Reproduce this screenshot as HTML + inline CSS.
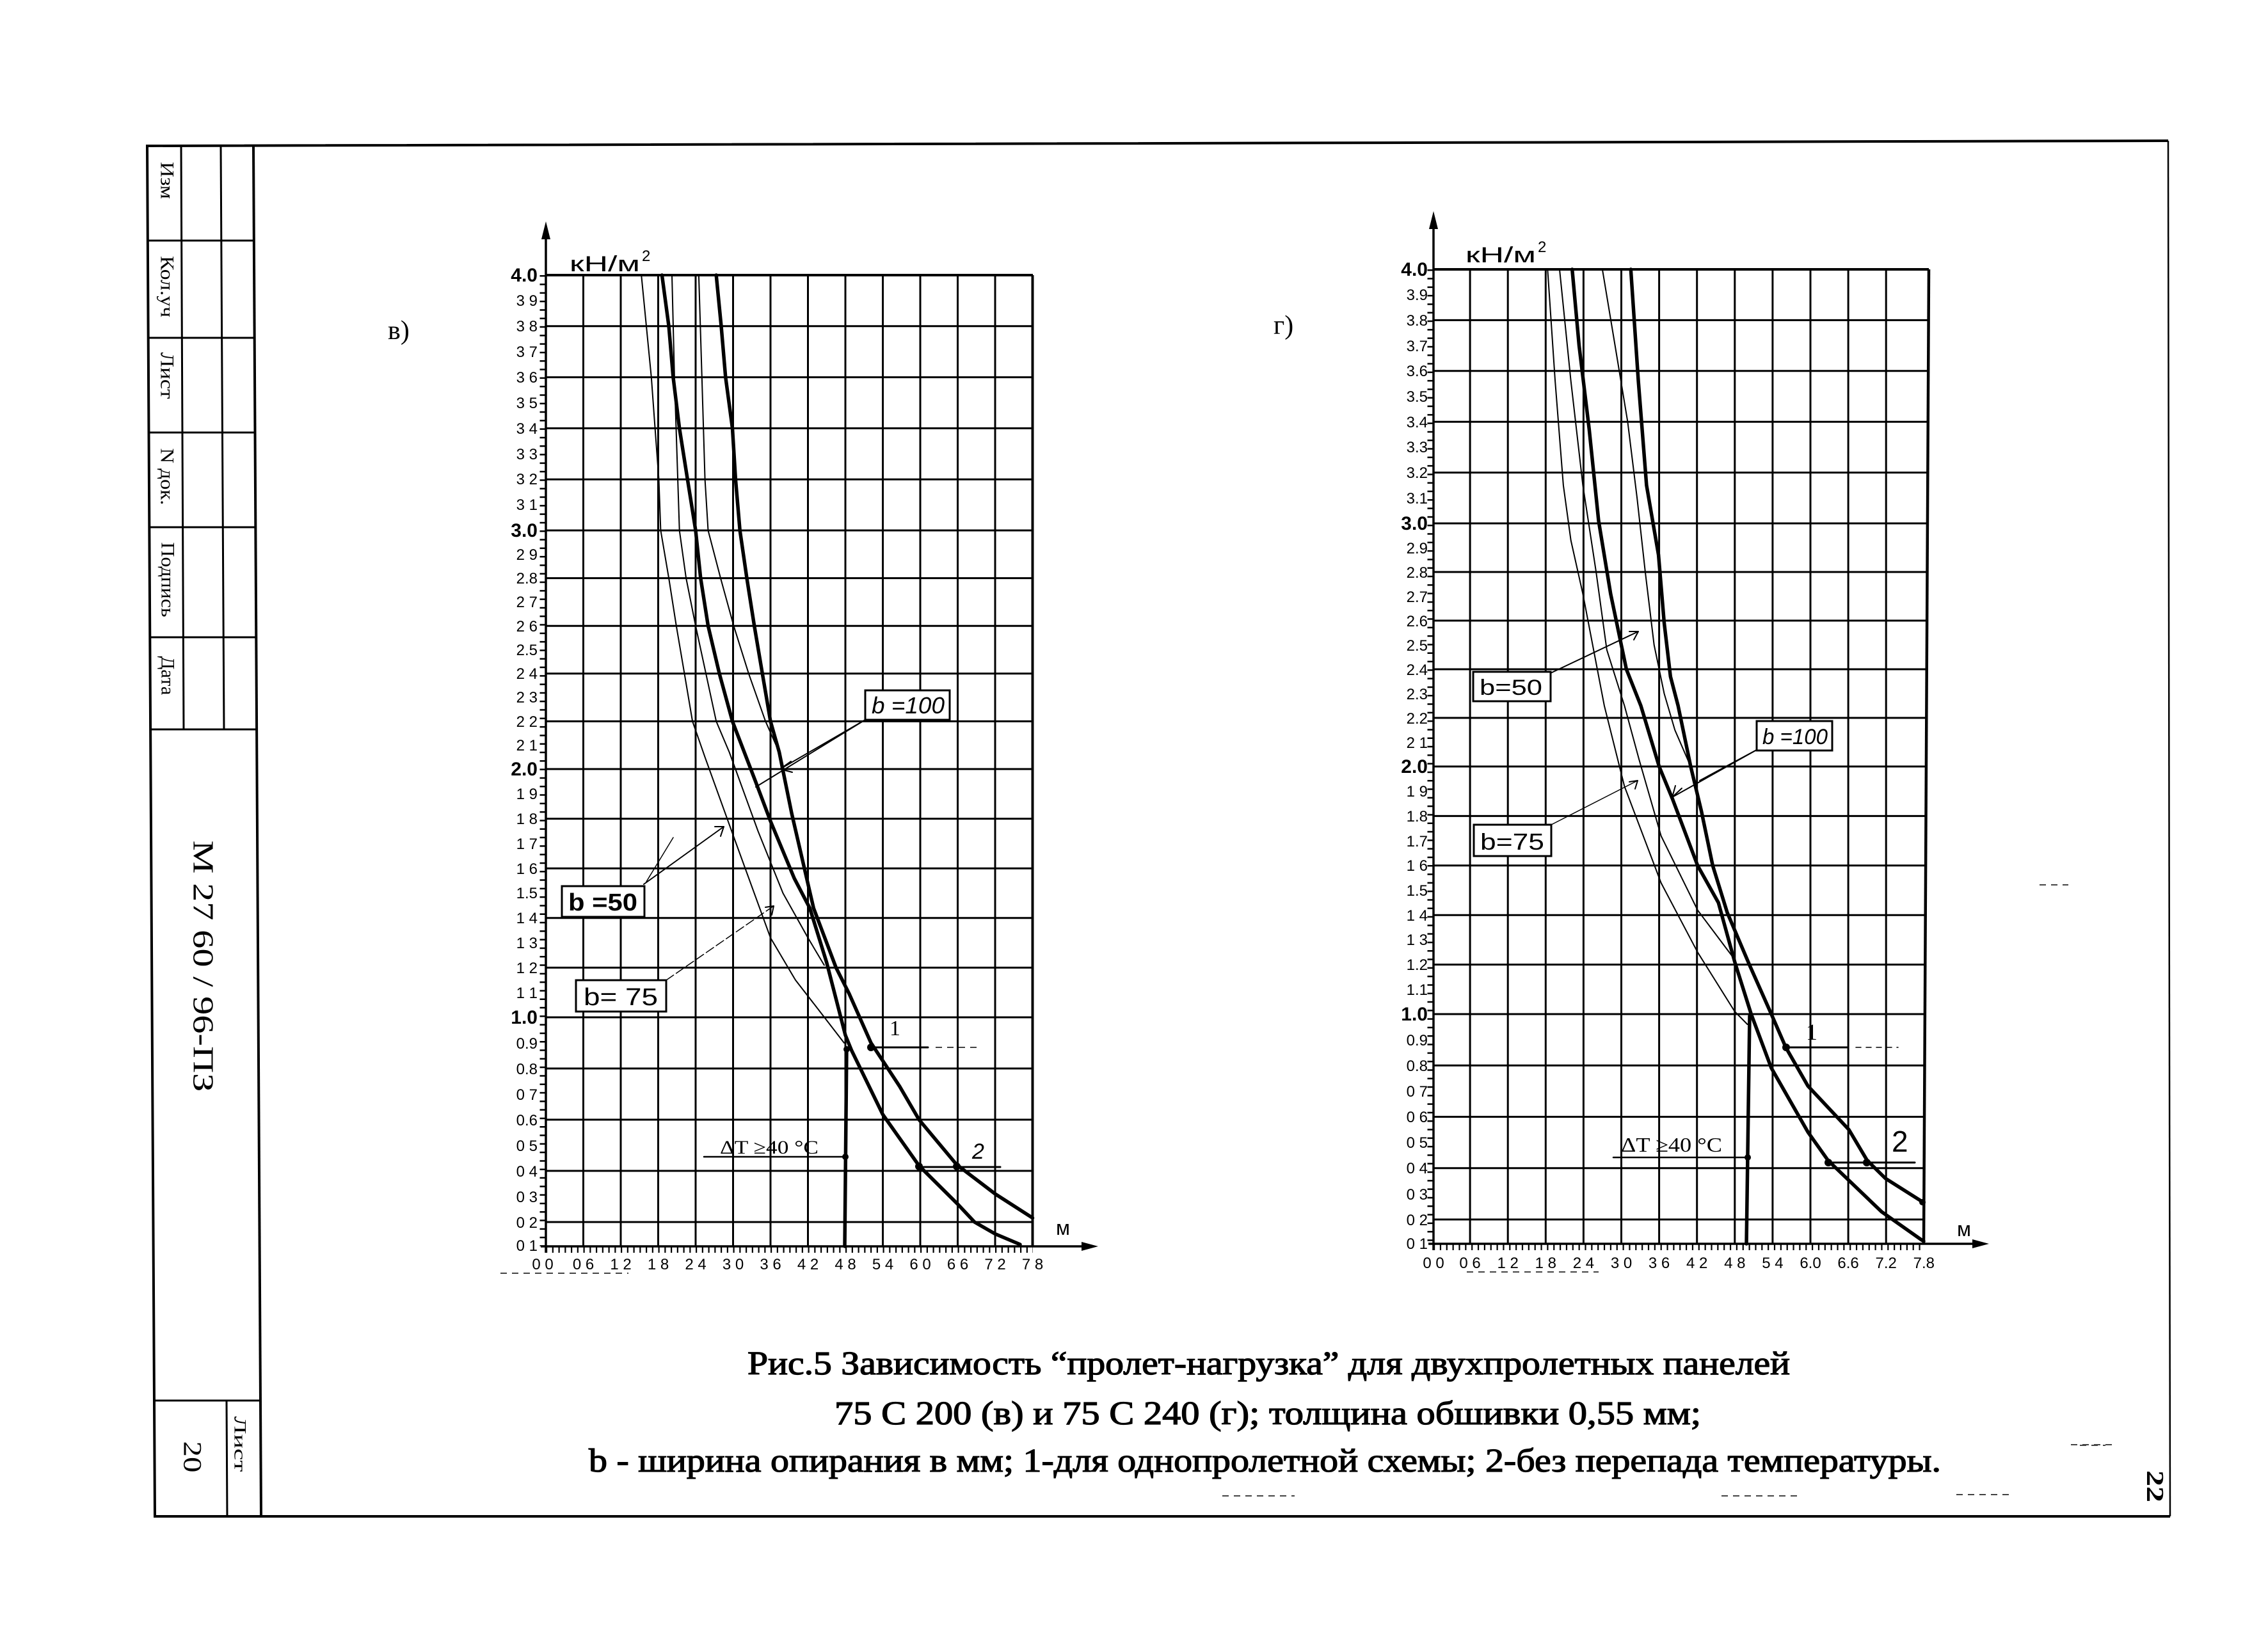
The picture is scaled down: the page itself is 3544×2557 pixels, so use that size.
<!DOCTYPE html>
<html><head><meta charset="utf-8">
<style>html,body{margin:0;padding:0;background:#fff;}svg{display:block}</style>
</head><body>
<svg xmlns="http://www.w3.org/2000/svg" width="3544" height="2557" viewBox="0 0 3544 2557">
<rect width="3544" height="2557" fill="#fff"/>

<!-- ===== Page frame & title block ===== -->
<g stroke="#000" fill="none" stroke-width="4">
<polyline points="3388,220 230,228 242,2370 3391,2370"/>
<line x1="396" y1="228" x2="408" y2="2370"/>
</g>
<line x1="3388" y1="220" x2="3391" y2="2370" stroke="#000" stroke-width="2.5"/>
<g stroke="#000" stroke-width="3">
<line x1="283" y1="228" x2="287" y2="1140"/>
<line x1="345" y1="228" x2="350" y2="1140"/>
<line x1="231" y1="376" x2="397" y2="376"/>
<line x1="231" y1="528" x2="398" y2="528"/>
<line x1="232" y1="676" x2="399" y2="676"/>
<line x1="232" y1="824" x2="400" y2="824"/>
<line x1="233" y1="996" x2="400" y2="996"/>
<line x1="234" y1="1140" x2="401" y2="1140"/>
<line x1="240" y1="2189" x2="407" y2="2189"/>
<line x1="354" y1="2189" x2="355" y2="2370"/>
</g>
<g font-family="'Liberation Serif','Noto Serif CJK SC',serif" fill="#000" text-anchor="middle" dominant-baseline="central">
<text transform="translate(261,282) rotate(90)" font-size="30" textLength="58" lengthAdjust="spacingAndGlyphs">Изм</text>
<text transform="translate(261,448) rotate(90)" font-size="30" textLength="96" lengthAdjust="spacingAndGlyphs">Кол.уч</text>
<text transform="translate(261,587) rotate(90)" font-size="30" textLength="73" lengthAdjust="spacingAndGlyphs">Лист</text>
<text transform="translate(261,745) rotate(90)" font-size="30" textLength="89" lengthAdjust="spacingAndGlyphs">N док.</text>
<text transform="translate(262,906) rotate(90)" font-size="30" textLength="117" lengthAdjust="spacingAndGlyphs">Подпись</text>
<text transform="translate(262,1056) rotate(90)" font-size="30" textLength="61" lengthAdjust="spacingAndGlyphs">Дата</text>
<text transform="translate(318,1510) rotate(90)" font-size="46" textLength="393" lengthAdjust="spacingAndGlyphs">М 27 60 / 96-ПЗ</text>
<text transform="translate(301,2277) rotate(90)" font-size="40" textLength="49" lengthAdjust="spacingAndGlyphs">20</text>
<text transform="translate(375,2257) rotate(90)" font-size="26" textLength="87" lengthAdjust="spacingAndGlyphs">Лист</text>
<text transform="translate(3367,2323) rotate(90)" font-size="38" font-weight="bold" textLength="50" lengthAdjust="spacingAndGlyphs">22</text>
</g>

<!-- panel letters -->
<g font-family="'Liberation Serif','Noto Serif CJK SC',serif" fill="#000" font-size="42">
<text x="606" y="530">в)</text>
<text x="1990" y="522">г)</text>
</g>

<!-- ===== LEFT CHART ===== -->
<g stroke="#000" stroke-width="3" fill="none">
<line x1="853" y1="430" x2="1614" y2="430" stroke-width="4"/>
<line x1="853" y1="509.8" x2="1614" y2="509.8"/>
<line x1="853" y1="589.6" x2="1614" y2="589.6"/>
<line x1="853" y1="669.4" x2="1614" y2="669.4"/>
<line x1="853" y1="749.2" x2="1614" y2="749.2"/>
<line x1="853" y1="829" x2="1614" y2="829"/>
<line x1="853" y1="903.6" x2="1614" y2="903.6"/>
<line x1="853" y1="978.2" x2="1614" y2="978.2"/>
<line x1="853" y1="1052.8" x2="1614" y2="1052.8"/>
<line x1="853" y1="1127.4" x2="1614" y2="1127.4"/>
<line x1="853" y1="1202" x2="1614" y2="1202"/>
<line x1="853" y1="1279.6" x2="1614" y2="1279.6"/>
<line x1="853" y1="1357.2" x2="1614" y2="1357.2"/>
<line x1="853" y1="1434.8" x2="1614" y2="1434.8"/>
<line x1="853" y1="1512.4" x2="1614" y2="1512.4"/>
<line x1="853" y1="1590" x2="1614" y2="1590"/>
<line x1="853" y1="1670" x2="1614" y2="1670"/>
<line x1="853" y1="1750" x2="1614" y2="1750"/>
<line x1="853" y1="1830" x2="1614" y2="1830"/>
<line x1="853" y1="1910" x2="1614" y2="1910"/>
<line x1="911.5" y1="430" x2="911.5" y2="1948"/>
<line x1="970" y1="430" x2="970" y2="1948"/>
<line x1="1028.5" y1="430" x2="1028.5" y2="1948"/>
<line x1="1087" y1="430" x2="1087" y2="1948"/>
<line x1="1145.5" y1="430" x2="1145.5" y2="1948"/>
<line x1="1204" y1="430" x2="1204" y2="1948"/>
<line x1="1262.5" y1="430" x2="1262.5" y2="1948"/>
<line x1="1321" y1="430" x2="1321" y2="1948"/>
<line x1="1379.5" y1="430" x2="1379.5" y2="1948"/>
<line x1="1438" y1="430" x2="1438" y2="1948"/>
<line x1="1496.5" y1="430" x2="1496.5" y2="1948"/>
<line x1="1555" y1="430" x2="1555" y2="1948"/>
<line x1="1613.5" y1="430" x2="1613.5" y2="1948" stroke-width="4"/>
<line x1="853" y1="362" x2="853" y2="1958" stroke-width="3.5"/>
<line x1="845" y1="1948" x2="1700" y2="1948" stroke-width="3.5"/>
<line x1="848" y1="430" x2="848" y2="1948" stroke-width="9" stroke-dasharray="2.5 10.8"/>
<line x1="853" y1="1953" x2="1614" y2="1953" stroke-width="10" stroke-dasharray="2.2 7.55"/>
</g>
<polygon points="853,346 846,374 860,374" fill="#000"/>
<polygon points="1716,1948 1690,1941 1690,1955" fill="#000"/>

<g fill="none" stroke="#000" stroke-linejoin="round" stroke-linecap="round">
<polyline stroke-width="2" points="1002.2,430 1010,509.8 1017.8,589.6 1023.6,669.4 1029.5,749.2 1032.4,829 1045.1,903.6 1056.8,978.2 1069.5,1052.8 1082.1,1127.4 1101.6,1183.4 1147.5,1310.6 1204,1465.8 1243,1531.8 1276.2,1574.5 1319,1630"/>
<polyline stroke-width="2" points="1050,430 1053.9,589.6 1061.7,829 1072,903 1087,978.2 1119.2,1127.4 1139.7,1175.9 1184.5,1299 1223.5,1396 1262.5,1465.8 1287.9,1508.5"/>
<polyline stroke-width="2" points="1091.9,430 1096.8,589.6 1101.6,749.2 1106.5,829 1126,903.6 1146.5,978.2 1169.9,1052.8 1196.2,1127.4 1217.7,1175.9"/>
<polyline stroke-width="5.5" points="1034.4,430 1045.1,509.8 1051.9,589.6 1061.7,669.4 1074.3,749.2 1087,829 1094.8,903.6 1106.5,978.2 1124.1,1052.8 1144.5,1127.4 1180.6,1221.4 1204,1283.5 1241.1,1372.7 1265.4,1419.3 1291.8,1504.6 1321,1618 1330.8,1642 1379.5,1742 1436.1,1822 1496.5,1882 1522.8,1910 1555,1928.5 1594,1945"/>
<polyline stroke-width="5.5" points="1119.2,430 1127,510 1133.8,589.6 1144.5,669.4 1149.4,749.2 1156.2,829 1167,903.6 1178.7,978.2 1191.3,1052.8 1204,1127.4 1217.7,1175.9 1237.2,1271.8 1271.3,1419.3 1306.4,1512.4 1326.9,1553.1 1361,1630 1405.8,1698 1436.1,1750 1494.6,1820 1555,1866 1613.5,1903.6"/>
<line x1="1323" y1="1638" x2="1320" y2="1948" stroke-width="5.5"/>
<line x1="1100" y1="1808" x2="1321" y2="1808" stroke-width="2.5"/>
<line x1="1361" y1="1637" x2="1450" y2="1637" stroke-width="3"/>
<line x1="1436" y1="1824" x2="1563" y2="1824" stroke-width="3"/>
<line x1="1352" y1="1125" x2="1181" y2="1230" stroke-width="2"/>
<line x1="1352" y1="1125" x2="1219" y2="1202" stroke-width="2"/>
<polyline stroke-width="2" points="1236,1190 1219,1202 1238,1207"/>
<line x1="1006" y1="1382" x2="1131" y2="1292" stroke-width="2"/>
<polyline stroke-width="2" points="1117,1292 1131,1292 1126,1307"/>
<line x1="1010" y1="1378" x2="1052" y2="1309" stroke-width="1.5"/>
<line x1="1041" y1="1532" x2="1209" y2="1416" stroke-width="1.5" stroke-dasharray="14 5"/>
<polyline stroke-width="2" points="1196,1418 1209,1416 1206,1430"/>
</g>
<g fill="#000">
<circle cx="1323" cy="1640" r="5"/>
<circle cx="1321" cy="1808" r="5"/>
<circle cx="1361" cy="1637" r="6"/>
<circle cx="1436" cy="1823" r="6"/>
<circle cx="1495" cy="1823" r="6"/>
</g>
<g fill="#fff" stroke="#000" stroke-width="3">
<rect x="1352" y="1079" width="132" height="46"/>
<rect x="878" y="1385" width="129" height="48"/>
<rect x="900" y="1532" width="141" height="49"/>
</g>
<g font-family="'Liberation Sans',sans-serif" fill="#000">
<text x="1362" y="1115" font-size="36" font-style="italic" textLength="114" lengthAdjust="spacingAndGlyphs">b =100</text>
<text x="888" y="1423" font-size="38" font-weight="bold" textLength="108" lengthAdjust="spacingAndGlyphs">b =50</text>
<text x="912" y="1571" font-size="38" textLength="116" lengthAdjust="spacingAndGlyphs">b= 75</text>
<text x="890" y="424" font-size="34" textLength="110" lengthAdjust="spacingAndGlyphs">кН/м</text>
<text x="1003" y="408" font-size="24">2</text>
<text x="1650" y="1930" font-size="32">м</text>
<text x="1519" y="1811" font-size="34" font-style="italic">2</text>
</g>
<g font-family="'Liberation Serif',serif" fill="#000">
<text x="1390" y="1618" font-size="34">1</text>
<text x="1125" y="1803" font-size="30" textLength="154" lengthAdjust="spacingAndGlyphs">ΔT ≥40 °C</text>
</g>
<g font-family="'Liberation Sans',sans-serif" fill="#000" font-size="24" text-anchor="end">
<text x="840" y="440" font-size="30" font-weight="bold">4.0</text>
<text x="840" y="478">3 9</text>
<text x="840" y="518">3 8</text>
<text x="840" y="558">3 7</text>
<text x="840" y="598">3 6</text>
<text x="840" y="638">3 5</text>
<text x="840" y="678">3 4</text>
<text x="840" y="718">3 3</text>
<text x="840" y="757">3 2</text>
<text x="840" y="797">3 1</text>
<text x="840" y="839" font-size="30" font-weight="bold">3.0</text>
<text x="840" y="875">2 9</text>
<text x="840" y="912">2.8</text>
<text x="840" y="949">2 7</text>
<text x="840" y="987">2 6</text>
<text x="840" y="1024">2.5</text>
<text x="840" y="1061">2 4</text>
<text x="840" y="1098">2 3</text>
<text x="840" y="1136">2 2</text>
<text x="840" y="1173">2 1</text>
<text x="840" y="1212" font-size="30" font-weight="bold">2.0</text>
<text x="840" y="1249">1 9</text>
<text x="840" y="1288">1 8</text>
<text x="840" y="1327">1 7</text>
<text x="840" y="1366">1 6</text>
<text x="840" y="1404">1.5</text>
<text x="840" y="1443">1 4</text>
<text x="840" y="1482">1 3</text>
<text x="840" y="1521">1 2</text>
<text x="840" y="1560">1 1</text>
<text x="840" y="1600" font-size="30" font-weight="bold">1.0</text>
<text x="840" y="1639">0.9</text>
<text x="840" y="1679">0.8</text>
<text x="840" y="1719">0 7</text>
<text x="840" y="1759">0.6</text>
<text x="840" y="1799">0 5</text>
<text x="840" y="1839">0 4</text>
<text x="840" y="1879">0 3</text>
<text x="840" y="1919">0 2</text>
<text x="840" y="1955">0 1</text>
</g>
<g font-family="'Liberation Sans',sans-serif" fill="#000" font-size="24" text-anchor="middle">
<text x="848" y="1984">0 0</text>
<text x="911.5" y="1984">0 6</text>
<text x="970" y="1984">1 2</text>
<text x="1028.5" y="1984">1 8</text>
<text x="1087" y="1984">2 4</text>
<text x="1145.5" y="1984">3 0</text>
<text x="1204" y="1984">3 6</text>
<text x="1262.5" y="1984">4 2</text>
<text x="1321" y="1984">4 8</text>
<text x="1379.5" y="1984">5 4</text>
<text x="1438" y="1984">6 0</text>
<text x="1496.5" y="1984">6 6</text>
<text x="1555" y="1984">7 2</text>
<text x="1613.5" y="1984">7 8</text>
</g>

<!-- ===== RIGHT CHART ===== -->
<g stroke="#000" stroke-width="3" fill="none">
<line x1="2240" y1="421" x2="3014" y2="421" stroke-width="4"/>
<line x1="2240" y1="500.4" x2="3013" y2="500.4"/>
<line x1="2240" y1="579.8" x2="3013" y2="579.8"/>
<line x1="2240" y1="659.2" x2="3012" y2="659.2"/>
<line x1="2240" y1="738.6" x2="3012" y2="738.6"/>
<line x1="2240" y1="818" x2="3011" y2="818"/>
<line x1="2240" y1="894" x2="3011" y2="894"/>
<line x1="2240" y1="970" x2="3011" y2="970"/>
<line x1="2240" y1="1046" x2="3010" y2="1046"/>
<line x1="2240" y1="1122" x2="3010" y2="1122"/>
<line x1="2240" y1="1198" x2="3010" y2="1198"/>
<line x1="2240" y1="1275.4" x2="3009" y2="1275.4"/>
<line x1="2240" y1="1352.8" x2="3009" y2="1352.8"/>
<line x1="2240" y1="1430.2" x2="3008" y2="1430.2"/>
<line x1="2240" y1="1507.6" x2="3008" y2="1507.6"/>
<line x1="2240" y1="1585" x2="3008" y2="1585"/>
<line x1="2240" y1="1665.3" x2="3007" y2="1665.3"/>
<line x1="2240" y1="1745.5" x2="3007" y2="1745.5"/>
<line x1="2240" y1="1825.8" x2="3007" y2="1825.8"/>
<line x1="2240" y1="1906" x2="3006" y2="1906"/>
<line x1="2297.1" y1="421" x2="2297.1" y2="1944"/>
<line x1="2356.2" y1="421" x2="2356.2" y2="1944"/>
<line x1="2415.3" y1="421" x2="2415.3" y2="1944"/>
<line x1="2474.4" y1="421" x2="2474.4" y2="1944"/>
<line x1="2533.5" y1="421" x2="2533.5" y2="1944"/>
<line x1="2592.6" y1="421" x2="2592.6" y2="1944"/>
<line x1="2651.7" y1="421" x2="2651.7" y2="1944"/>
<line x1="2710.8" y1="421" x2="2710.8" y2="1944"/>
<line x1="2769.9" y1="421" x2="2769.9" y2="1944"/>
<line x1="2829" y1="421" x2="2829" y2="1944"/>
<line x1="2888.1" y1="421" x2="2888.1" y2="1944"/>
<line x1="2947.2" y1="421" x2="2947.2" y2="1944"/>
<line x1="3014" y1="421" x2="3006" y2="1944" stroke-width="4.5"/>
<line x1="2240" y1="346" x2="2240" y2="1954" stroke-width="3.5"/>
<line x1="2232" y1="1944" x2="3090" y2="1944" stroke-width="3.5"/>
<line x1="2235" y1="421" x2="2235" y2="1944" stroke-width="9" stroke-dasharray="2.5 10.8"/>
<line x1="2240" y1="1949" x2="3006" y2="1949" stroke-width="10" stroke-dasharray="2.2 7.65"/>
</g>
<polygon points="2240,330 2233,358 2247,358" fill="#000"/>
<polygon points="3108,1944 3082,1937 3082,1951" fill="#000"/>

<g fill="none" stroke="#000" stroke-linejoin="round" stroke-linecap="round">
<polyline stroke-width="2" points="2418.3,421 2430.1,595.7 2442.9,758.5 2454.7,844.6 2473.4,928.2 2506.9,1103 2538.4,1229 2595.6,1379.9 2652.7,1488.3 2710.8,1581.1 2730.5,1601"/>
<polyline stroke-width="2" points="2437,421 2454.7,595.7 2473.4,758.5 2494.1,894 2510.8,1015.6 2538.4,1103 2561.1,1186.6 2595.6,1306.4 2652.7,1422.5 2710.8,1499.9"/>
<polyline stroke-width="2" points="2503.9,421 2523.7,540.1 2543.4,659.2 2558.1,778.3 2570.9,894 2584.7,1008 2600.5,1084 2617.2,1141 2641.9,1198"/>
<polyline stroke-width="5.5" points="2456.7,421 2467.5,540.1 2483.3,671.1 2498,814 2516.8,928.2 2541.4,1046 2564,1103 2592.6,1198 2613.3,1248.3 2652.7,1352.8 2685.2,1410.9 2710.8,1503.7 2736.4,1585 2767.9,1669.3 2825.1,1769.4 2856.6,1813.8 2940.3,1894 3000.4,1936.4 3006,1940"/>
<polyline stroke-width="5.5" points="2548.3,421 2560.1,595.7 2572.9,758.5 2591.6,867.4 2600.5,973.8 2610.3,1057.4 2622.2,1103 2641.9,1198 2658.6,1267.7 2676.3,1352.8 2699,1426.3 2733.5,1507.6 2767.9,1585 2790.6,1637.2 2825.1,1697.4 2889.1,1765.6 2917.7,1813.8 2946.2,1841.8 3003.3,1877.9"/>
<line x1="2734" y1="1588" x2="2729" y2="1944" stroke-width="5.5"/>
<line x1="2521" y1="1809" x2="2731" y2="1809" stroke-width="2.5"/>
<line x1="2791" y1="1637" x2="2886" y2="1637" stroke-width="3"/>
<line x1="2900" y1="1637" x2="2966" y2="1637" stroke-width="1.5" stroke-dasharray="8 8"/>
<line x1="2857" y1="1817" x2="2992" y2="1817" stroke-width="3"/>
<line x1="2423" y1="1052" x2="2560" y2="987" stroke-width="2"/>
<polyline stroke-width="2" points="2546,987 2560,987 2553,1000"/>
<line x1="2745" y1="1172" x2="2613" y2="1246" stroke-width="2"/>
<line x1="2745" y1="1172" x2="2656" y2="1220" stroke-width="2"/>
<polyline stroke-width="2" points="2628,1232 2613,1246 2618,1228"/>
<line x1="2424" y1="1289" x2="2559" y2="1220" stroke-width="1.5"/>
<polyline stroke-width="2" points="2546,1222 2559,1220 2555,1233"/>
</g>
<g fill="#000">
<circle cx="2731" cy="1809" r="5"/>
<circle cx="2791" cy="1637" r="6"/>
<circle cx="2857" cy="1817" r="6"/>
<circle cx="2917" cy="1817" r="6"/>
<circle cx="3004" cy="1879" r="5"/>
</g>
<g fill="#fff" stroke="#000" stroke-width="3">
<rect x="2302" y="1050" width="121" height="46"/>
<rect x="2745" y="1127" width="118" height="46"/>
<rect x="2303" y="1289" width="121" height="49"/>
</g>
<g font-family="'Liberation Sans',sans-serif" fill="#000">
<text x="2312" y="1086" font-size="34" textLength="98" lengthAdjust="spacingAndGlyphs">b=50</text>
<text x="2754" y="1163" font-size="34" font-style="italic" textLength="102" lengthAdjust="spacingAndGlyphs">b =100</text>
<text x="2313" y="1328" font-size="36" textLength="100" lengthAdjust="spacingAndGlyphs">b=75</text>
<text x="2290" y="410" font-size="34" textLength="110" lengthAdjust="spacingAndGlyphs">кН/м</text>
<text x="2403" y="394" font-size="24">2</text>
<text x="3058" y="1932" font-size="32">м</text>
<text x="2956" y="1800" font-size="46">2</text>
</g>
<g font-family="'Liberation Serif',serif" fill="#000">
<text x="2822" y="1625" font-size="36">1</text>
<text x="2533" y="1800" font-size="32" textLength="158" lengthAdjust="spacingAndGlyphs">ΔT ≥40 °C</text>
</g>
<g font-family="'Liberation Sans',sans-serif" fill="#000" font-size="24" text-anchor="end">
<text x="2231" y="431" font-size="30" font-weight="bold">4.0</text>
<text x="2231" y="469">3.9</text>
<text x="2231" y="509">3.8</text>
<text x="2231" y="549">3.7</text>
<text x="2231" y="588">3.6</text>
<text x="2231" y="628">3.5</text>
<text x="2231" y="668">3.4</text>
<text x="2231" y="707">3.3</text>
<text x="2231" y="747">3.2</text>
<text x="2231" y="787">3.1</text>
<text x="2231" y="828" font-size="30" font-weight="bold">3.0</text>
<text x="2231" y="865">2.9</text>
<text x="2231" y="903">2.8</text>
<text x="2231" y="941">2.7</text>
<text x="2231" y="979">2.6</text>
<text x="2231" y="1017">2.5</text>
<text x="2231" y="1055">2.4</text>
<text x="2231" y="1093">2.3</text>
<text x="2231" y="1131">2.2</text>
<text x="2231" y="1169">2 1</text>
<text x="2231" y="1208" font-size="30" font-weight="bold">2.0</text>
<text x="2231" y="1245">1 9</text>
<text x="2231" y="1284">1.8</text>
<text x="2231" y="1323">1.7</text>
<text x="2231" y="1361">1 6</text>
<text x="2231" y="1400">1.5</text>
<text x="2231" y="1439">1 4</text>
<text x="2231" y="1477">1 3</text>
<text x="2231" y="1516">1.2</text>
<text x="2231" y="1555">1.1</text>
<text x="2231" y="1595" font-size="30" font-weight="bold">1.0</text>
<text x="2231" y="1634">0.9</text>
<text x="2231" y="1674">0.8</text>
<text x="2231" y="1714">0 7</text>
<text x="2231" y="1754">0 6</text>
<text x="2231" y="1794">0 5</text>
<text x="2231" y="1834">0 4</text>
<text x="2231" y="1875">0 3</text>
<text x="2231" y="1915">0 2</text>
<text x="2231" y="1952">0 1</text>
</g>
<g font-family="'Liberation Sans',sans-serif" fill="#000" font-size="24" text-anchor="middle">
<text x="2240" y="1982">0 0</text>
<text x="2297.1" y="1982">0 6</text>
<text x="2356.2" y="1982">1 2</text>
<text x="2415.3" y="1982">1 8</text>
<text x="2474.4" y="1982">2 4</text>
<text x="2533.5" y="1982">3 0</text>
<text x="2592.6" y="1982">3 6</text>
<text x="2651.7" y="1982">4 2</text>
<text x="2710.8" y="1982">4 8</text>
<text x="2769.9" y="1982">5 4</text>
<text x="2829" y="1982">6.0</text>
<text x="2888.1" y="1982">6.6</text>
<text x="2947.2" y="1982">7.2</text>
<text x="3006.3" y="1982">7.8</text>
</g>

<!-- stray scan marks -->
<g stroke="#444" stroke-width="2" stroke-dasharray="10 8" fill="none">
<line x1="782" y1="1990" x2="982" y2="1990"/>
<line x1="2292" y1="1988" x2="2498" y2="1988"/>
<line x1="1910" y1="2338" x2="2023" y2="2338"/>
<line x1="2690" y1="2338" x2="2814" y2="2338"/>
<line x1="3057" y1="2336" x2="3147" y2="2336"/>
<line x1="3187" y1="1383" x2="3232" y2="1383"/>
<line x1="3236" y1="2258" x2="3300" y2="2258"/>
<line x1="1462" y1="1637" x2="1530" y2="1637"/>
<line x1="3250" y1="2259" x2="3290" y2="2259"/>
</g>

<!-- ===== Caption ===== -->
<g font-family="'Liberation Serif','Noto Serif CJK SC',serif" fill="#000" stroke="#000" stroke-width="1.3" font-size="52">
<text x="1168" y="2148" textLength="1629" lengthAdjust="spacingAndGlyphs">Рис.5 Зависимость “пролет-нагрузка” для двухпролетных панелей</text>
<text x="1304" y="2226" textLength="1354" lengthAdjust="spacingAndGlyphs">75 С 200 (в) и 75 С 240 (г); толщина обшивки 0,55 мм;</text>
<text x="920" y="2300" textLength="2113" lengthAdjust="spacingAndGlyphs">b - ширина опирания в мм; 1-для однопролетной схемы; 2-без перепада температуры.</text>
</g>
</svg>
</body></html>
